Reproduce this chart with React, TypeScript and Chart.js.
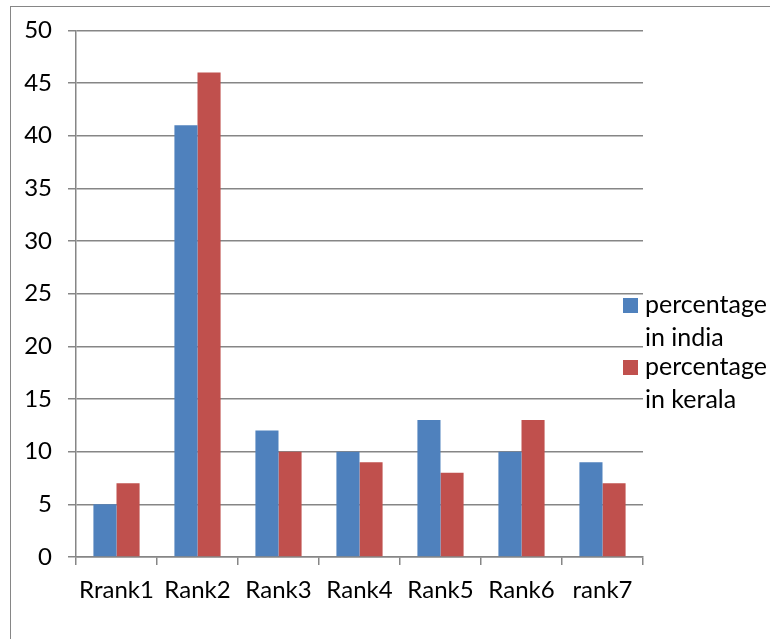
import React, { useEffect, useRef } from "react";
import { Chart, registerables } from "chart.js";

Chart.register(...registerables);

const categories = ["Rrank1", "Rank2", "Rank3", "Rank4", "Rank5", "Rank6", "rank7"];
const indiaValues = [5, 41, 12, 10, 13, 10, 9];
const keralaValues = [7, 46, 10, 9, 8, 13, 7];
const indiaLabel = ["percentage", "in india"];
const keralaLabel = ["percentage", "in kerala"];
const yMin = 0;
const yMax = 50;
const yStep = 5;

const FONT = "Lato";
const GRID = "#868686";

const sideLegend = {
  id: "sideLegend",
  afterDraw(chart: any) {
    const ctx = chart.ctx;
    const area = chart.chartArea;
    ctx.save();
    ctx.font = `25px ${FONT}`;
    ctx.textBaseline = "alphabetic";
    ctx.textAlign = "left";
    const x0 = area.right - 20;
    chart.data.datasets.forEach((ds: any, i: number) => {
      const baseY = 313 + i * 62;
      ctx.fillStyle = ds.backgroundColor;
      ctx.fillRect(x0, baseY - 15, 15, 15);
      ctx.fillStyle = "#000";
      const lines: string[] = ds.legendLines;
      lines.forEach((t, j) => ctx.fillText(t, x0 + 22, baseY + j * 33));
    });
    ctx.restore();
  },
};

export default function App() {
  const ref = useRef<HTMLCanvasElement | null>(null);
  useEffect(() => {
    if (!ref.current) return;
    const chart = new Chart(ref.current, {
      type: "bar",
      data: {
        labels: categories,
        datasets: [
          {
            label: indiaLabel.join(" "),
            data: indiaValues,
            backgroundColor: "#4F81BD",
            legendLines: indiaLabel,
            categoryPercentage: 0.57,
            barPercentage: 1,
          } as any,
          {
            label: keralaLabel.join(" "),
            data: keralaValues,
            backgroundColor: "#C0504D",
            legendLines: keralaLabel,
            categoryPercentage: 0.57,
            barPercentage: 1,
          } as any,
        ],
      },
      options: {
        responsive: false,
        animation: false,
        devicePixelRatio: 1,
        layout: { padding: { top: 30, right: 127, bottom: 0, left: 0 } },
        plugins: {
          legend: { display: false },
          tooltip: { enabled: false },
        },
        scales: {
          x: {
            grid: {
              drawOnChartArea: false,
              drawTicks: true,
              tickLength: 8,
              color: GRID,
              lineWidth: 1.5,
            },
            border: { color: GRID, width: 1.5 },
            ticks: {
              color: "#000",
              font: { family: FONT, size: 24 },
              padding: 11,
              maxRotation: 0,
              autoSkip: false,
            },
            afterFit: (s: any) => {
              s.height = 82;
            },
          },
          y: {
            min: yMin,
            max: yMax,
            grid: {
              color: GRID,
              lineWidth: 1.5,
              drawTicks: true,
              tickLength: 8,
            },
            border: { color: GRID, width: 1.5 },
            ticks: {
              stepSize: yStep,
              color: "#000",
              font: { family: FONT, size: 24 },
              padding: 16,
            },
            afterFit: (s: any) => {
              s.width = 76;
            },
          },
        },
      },
      plugins: [sideLegend],
    });
    return () => chart.destroy();
  }, []);

  return (
    <div style={{ position: "fixed", left: 0, top: 0, width: 770, height: 639, background: "#fff", overflow: "hidden" }}>
      <div
        style={{
          position: "absolute",
          left: 10,
          top: 6,
          width: 800,
          height: 700,
          border: "1.5px solid #868686",
        }}
      />
      <canvas ref={ref} width={770} height={639} style={{ position: "absolute", left: 0, top: 0 }} />
    </div>
  );
}
